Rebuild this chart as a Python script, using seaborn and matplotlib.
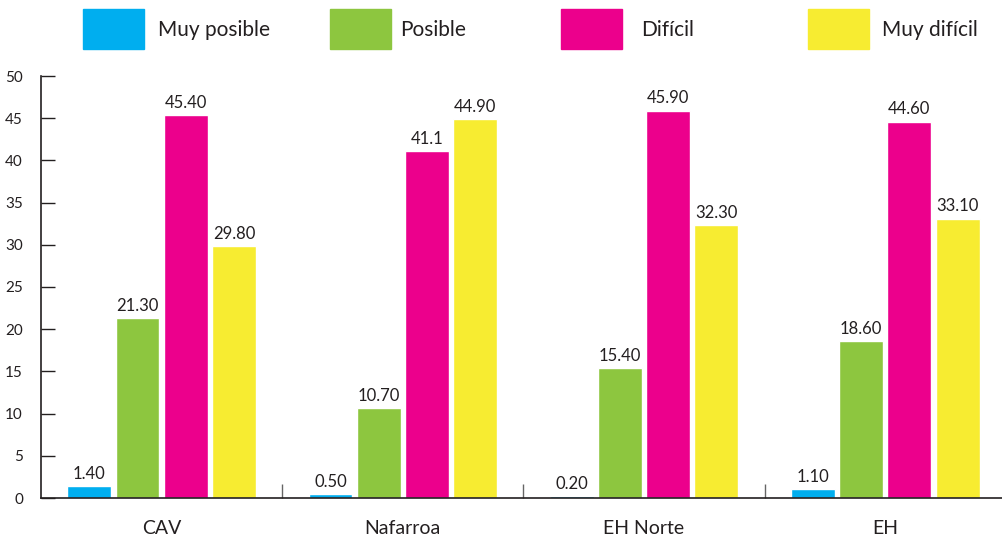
import matplotlib
matplotlib.use("Agg")
import matplotlib.pyplot as plt
import seaborn as sns
import pandas as pd
from matplotlib.patches import Rectangle

regions     = ["CAV", "Nafarroa", "EH Norte", "EH"]
levels      = ["Muy posible", "Posible", "Difícil", "Muy difícil"]
muy_posible = [1.40, 0.50, 0.20, 1.10]
posible     = [21.30, 10.70, 15.40, 18.60]
dificil     = [45.40, 41.1, 45.90, 44.60]
muy_dificil = [29.80, 44.90, 32.30, 33.10]
label_text  = [
    ["1.40", "0.50", "0.20", "1.10"],
    ["21.30", "10.70", "15.40", "18.60"],
    ["45.40", "41.1", "45.90", "44.60"],
    ["29.80", "44.90", "32.30", "33.10"],
]
colors = ["#00AEEF", "#8DC63F", "#EC008C", "#F7EC31"]

W, H = 1003, 540

df = pd.DataFrame({
    "region": regions * 4,
    "level":  [l for l in levels for _ in regions],
    "value":  muy_posible + posible + dificil + muy_dificil,
})

sns.set_style("white")
plt.rcParams["font.family"] = ["Lato", "DejaVu Sans"]

fig = plt.figure(figsize=(W / 100, H / 100), dpi=100)
ax = fig.add_axes([41 / W, 42 / H, (W - 41) / W, (498 - 76) / H])

sns.barplot(
    data=df, x="region", y="value", hue="level",
    order=regions, hue_order=levels, palette=colors,
    width=0.8, gap=0.09, saturation=1, legend=False, ax=ax,
)

for cont, labs in zip(ax.containers, label_text):
    ax.bar_label(cont, labels=labs, padding=3, fontsize=12, color="#231f20")

ax.set_ylim(0, 50)
ax.set_xlim(-0.5, 3.488)
ax.set_yticks(range(0, 51, 5))
ax.set_xlabel("")
ax.set_ylabel("")
sns.despine(ax=ax, top=True, right=True)
for s in ["left", "bottom"]:
    ax.spines[s].set_color("#231f20")
    ax.spines[s].set_linewidth(1.2)

ax.tick_params(axis="y", direction="in", length=10, width=1, color="#231f20",
               labelsize=11, labelcolor="#231f20", pad=13, left=True)
ax.tick_params(axis="x", which="major", length=0, pad=16, labelsize=14,
               labelcolor="#231f20")
ax.set_xticks([0.5, 1.5, 2.5], minor=True)
ax.tick_params(axis="x", which="minor", direction="in", length=10, width=1,
               color="#666666", bottom=True)

# legend row on top
hx = [83, 330, 561, 808]
tx = [158, 400, 641, 882]
for name, c, x0, x1 in zip(levels, colors, hx, tx):
    fig.patches.append(Rectangle((x0 / W, 1 - 49 / H), 61 / W, 40 / H,
                                 transform=fig.transFigure, color=c))
    fig.text(x1 / W, 1 - 30 / H, name, fontsize=15, va="center", ha="left",
             color="#231f20")

fig.savefig("out.png", dpi=100)
